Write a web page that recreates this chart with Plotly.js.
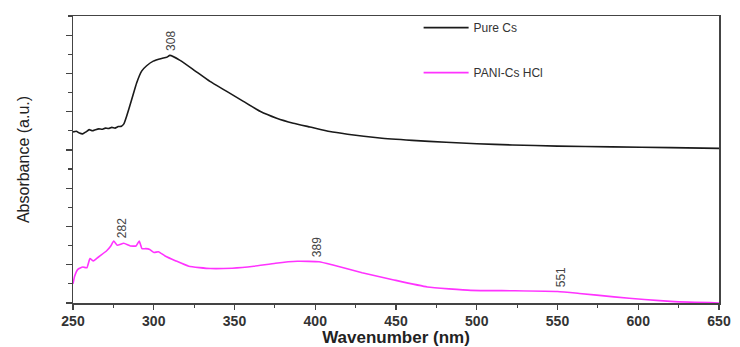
<!DOCTYPE html>
<html>
<head>
<meta charset="utf-8">
<script src="https://cdn.plot.ly/plotly-3.0.1.min.js"></script>
<style>html,body{margin:0;padding:0;background:#fff;}#chart{width:740px;height:347px;}</style>
</head>
<body>
<div id="chart"></div>
<script>
// Wavelength (nm) and absorbance (a.u., arbitrary offset scale)
const pureCsX = [250, 252, 254, 256, 258, 260, 262, 264, 266, 268, 270, 272, 274, 276, 278, 280, 281.5, 283.2, 286.3, 289.4, 292.5, 295.6, 299.7, 304.9, 308, 310, 316.3, 324.5, 334.8, 345.2, 355.5, 365.8, 376.1, 386.4, 396.7, 409, 420, 440, 460, 481, 500, 522, 550, 584, 620, 650];
const pureCsY = [4.47, 4.49, 4.44, 4.42, 4.47, 4.53, 4.50, 4.53, 4.55, 4.54, 4.57, 4.56, 4.59, 4.57, 4.61, 4.62, 4.68, 4.88, 5.31, 5.75, 6.06, 6.20, 6.32, 6.39, 6.42, 6.47, 6.34, 6.10, 5.79, 5.53, 5.27, 5.01, 4.83, 4.70, 4.60, 4.48, 4.41, 4.31, 4.25, 4.20, 4.16, 4.13, 4.10, 4.08, 4.06, 4.04];

const paniX = [250, 251, 253, 256, 258.6, 260.5, 262.6, 264.5, 266.7, 270.7, 273.4, 275.2, 277.4, 281.4, 285.5, 289, 291, 292.7, 295, 297.5, 300.2, 302.9, 307, 313.7, 321.7, 335, 348.6, 362, 375.4, 388.9, 402.3, 410.4, 429, 448, 469.4, 496.3, 523, 550, 563.5, 585, 603.8, 622.5, 650];
const paniY = [0.50, 0.70, 0.88, 0.94, 0.92, 1.16, 1.10, 1.16, 1.23, 1.36, 1.49, 1.62, 1.51, 1.56, 1.49, 1.49, 1.62, 1.42, 1.42, 1.40, 1.32, 1.34, 1.23, 1.10, 0.96, 0.90, 0.91, 0.96, 1.04, 1.09, 1.08, 1.00, 0.79, 0.61, 0.42, 0.33, 0.32, 0.30, 0.25, 0.16, 0.09, 0.035, 0.0];

const peakLabels = ["308", "282", "389", "551"];
const peakX = [311, 280, 401, 552];
const peakY = [6.47, 1.60, 1.09, 0.30];

const seriesNames = ["Pure Cs", "PANI-Cs HCl"];

const traces = [
  {x: pureCsX, y: pureCsY, name: seriesNames[0], mode: 'lines', legendgroup: 'a',
   line: {color: '#1a1a1a', width: 1.6, shape: 'spline', smoothing: 0.4}},
  {x: paniX, y: paniY, name: seriesNames[1], mode: 'lines', legendgroup: 'b',
   line: {color: '#ff33ff', width: 1.6, shape: 'spline', smoothing: 0.4}}
];

const annotations = peakLabels.map((t, i) => ({
  x: peakX[i], y: peakY[i], xref: 'x', yref: 'y', text: t, showarrow: false,
  textangle: -90, yanchor: 'bottom', xanchor: 'center', yshift: 2,
  font: {family: 'Liberation Sans, Arial, sans-serif', size: 12, color: '#444'}
}));

const layout = {
  width: 740, height: 347,
  margin: {l: 73, r: 21, t: 16, b: 44},
  paper_bgcolor: '#fff', plot_bgcolor: '#fff',
  showlegend: true,
  legend: {x: 0.535, y: 1.01, xanchor: 'left', yanchor: 'top', tracegroupgap: 26, itemwidth: 45,
           bgcolor: 'rgba(0,0,0,0)', font: {family: 'Liberation Sans, Arial, sans-serif', size: 12, color: '#333'}},
  xaxis: {
    range: [250, 650], dtick: 50, tick0: 250, ticks: 'outside', ticklen: 5, tickwidth: 1.2, tickcolor: '#444',
    showline: true, linecolor: '#444', linewidth: 1.5, mirror: true, showgrid: false, zeroline: false,
    minor: {dtick: 25, ticks: 'outside', ticklen: 3, tickcolor: '#444', showgrid: false},
    tickfont: {family: 'Liberation Sans, Arial, sans-serif', size: 14, color: '#333', weight: 'bold'},
    title: {text: 'Wavenumber (nm)', standoff: 4,
            font: {family: 'Liberation Sans, Arial, sans-serif', size: 17, color: '#222', weight: 'bold'}}
  },
  yaxis: {
    range: [0, 7.5], dtick: 1, tick0: 0, ticks: 'outside', ticklen: 6, tickwidth: 1.2, tickcolor: '#444',
    showticklabels: false,
    showline: true, linecolor: '#444', linewidth: 1.5, mirror: true, showgrid: false, zeroline: false,
    minor: {dtick: 0.5, ticks: 'outside', ticklen: 4, tickcolor: '#444', showgrid: false},
    title: {text: 'Absorbance (a.u.)', standoff: 32,
            font: {family: 'Liberation Sans, Arial, sans-serif', size: 16, color: '#222'}}
  },
  annotations: annotations
};

Plotly.newPlot('chart', traces, layout, {displayModeBar: false, staticPlot: true});
</script>
</body>
</html>
